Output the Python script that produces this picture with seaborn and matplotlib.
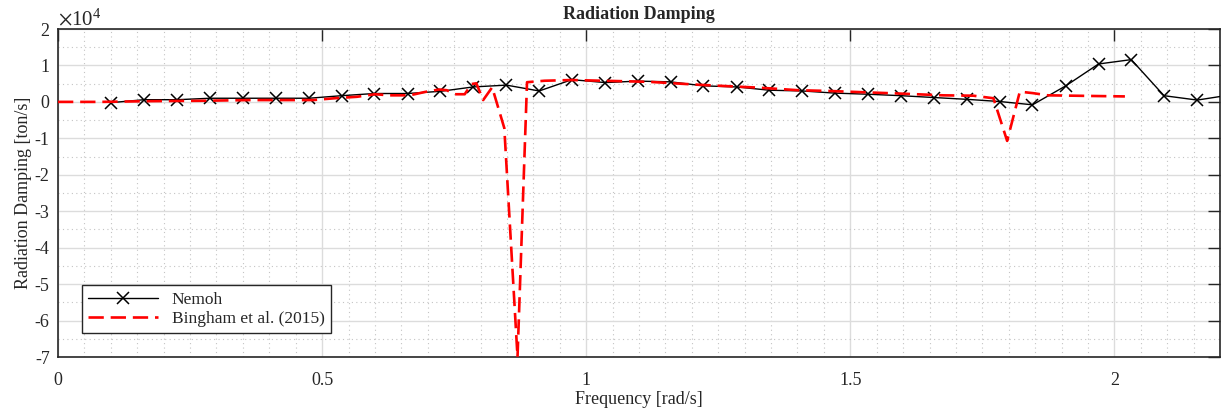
import matplotlib
matplotlib.use("Agg")
import matplotlib.pyplot as plt
import seaborn as sns
import numpy as np
from matplotlib.ticker import MultipleLocator, ScalarFormatter

# ---------------- data (values in ton/s) ----------------
nemoh_freq = [0.101, 0.163, 0.226, 0.288, 0.350, 0.413, 0.475, 0.537, 0.599, 0.662,
              0.724, 0.786, 0.849, 0.911, 0.973, 1.036, 1.098, 1.160, 1.222, 1.285,
              1.347, 1.409, 1.472, 1.534, 1.596, 1.658, 1.721, 1.783, 1.845, 1.908,
              1.970, 2.032, 2.094, 2.157, 2.219]
nemoh_val_e4 = [-0.02, 0.06, 0.06, 0.10, 0.10, 0.10, 0.10, 0.17, 0.23, 0.23,
                0.29, 0.41, 0.46, 0.30, 0.61, 0.53, 0.57, 0.55, 0.44, 0.41,
                0.32, 0.30, 0.24, 0.21, 0.17, 0.12, 0.07, 0.01, -0.08, 0.44,
                1.04, 1.16, 0.17, 0.05, 0.19]

bing_freq = [0.000, 0.080, 0.175, 0.269, 0.364, 0.483, 0.524, 0.566, 0.600, 0.628,
             0.666, 0.694, 0.722, 0.736, 0.751, 0.770, 0.783, 0.792, 0.805, 0.822,
             0.845, 0.870, 0.888, 0.921, 0.972, 1.062, 1.119, 1.213, 1.327, 1.402,
             1.459, 1.515, 1.591, 1.676, 1.733, 1.771, 1.797, 1.821, 1.846, 1.874,
             1.969, 2.020]
bing_val_e4 = [0.00, 0.00, 0.02, 0.03, 0.05, 0.05, 0.10, 0.14, 0.21, 0.18,
               0.18, 0.27, 0.34, 0.32, 0.21, 0.21, 0.49, 0.51, 0.05, 0.40,
               -0.72, -7.00, 0.54, 0.58, 0.60, 0.57, 0.55, 0.47, 0.39, 0.32,
               0.30, 0.27, 0.23, 0.18, 0.17, 0.10, -1.07, 0.28, 0.24, 0.18,
               0.16, 0.15]

series_labels = ["Nemoh", "Bingham et al. (2015)"]
x_ticks = [0, 0.5, 1, 1.5, 2]
x_tick_labels = ["0", "0.5", "1", "1.5", "2"]
y_ticks = [-7, -6, -5, -4, -3, -2, -1, 0, 1, 2]

nemoh_val = [v * 1e4 for v in nemoh_val_e4]
bing_val = [v * 1e4 for v in bing_val_e4]


class PlainSciFormatter(ScalarFormatter):
    """Keeps the library's x10^4 offset text but prints plain hyphen labels."""
    def __call__(self, x, pos=None):
        v = x / (10 ** self.orderOfMagnitude)
        return f"{v:g}"


# ---------------- style ----------------
sns.set_style("white")
plt.rcParams['font.family'] = ['Liberation Serif', 'DejaVu Serif']
plt.rcParams['mathtext.fontset'] = 'stix'
plt.rcParams['axes.unicode_minus'] = False

fig = plt.figure(figsize=(12.27, 4.16), dpi=100)
ax = fig.add_axes([58 / 1227, 1 - 357 / 416, (1220 - 58) / 1227, (357 - 29) / 416])

sns.lineplot(x=nemoh_freq, y=nemoh_val, ax=ax, color='black', linewidth=1.0,
             marker='x', markersize=9, markeredgewidth=1.1, markeredgecolor='black',
             label=series_labels[0], sort=False, zorder=3)
sns.lineplot(x=bing_freq, y=bing_val, ax=ax, color='#ff0000', linewidth=1.9,
             linestyle=(0, (5.8, 2.6)), label=series_labels[1], sort=False, zorder=4)

ax.set_xlim(0, 2.2)
ax.set_ylim(-7e4, 2e4)
ax.set_xticks(x_ticks)
ax.set_xticklabels(x_tick_labels)
ax.set_yticks([v * 1e4 for v in y_ticks])
fmt = PlainSciFormatter(useMathText=True)
fmt.set_powerlimits((4, 4))
ax.yaxis.set_major_formatter(fmt)
ax.yaxis.get_offset_text().set_fontsize(15)

ax.xaxis.set_minor_locator(MultipleLocator(0.05))
ax.yaxis.set_minor_locator(MultipleLocator(0.5e4))

ax.grid(True, which='major', color='#dcdcdc', linestyle='-', linewidth=1.0)
ax.grid(True, which='minor', color='#c4c4c4', linestyle=(0, (1, 3)), linewidth=0.8)
ax.set_axisbelow(True)

ax.tick_params(axis='x', which='major', pad=11)
ax.tick_params(axis='y', which='major', pad=6)
ax.tick_params(axis='both', which='major', direction='in', length=8.5, width=1.0,
               top=True, right=True, labelsize=13, color='#262626')
ax.tick_params(axis='both', which='minor', length=0, top=True, right=True)
for s in ax.spines.values():
    s.set_color('#262626')
    s.set_linewidth(1.2)

ax.set_title("Radiation Damping", fontsize=13, fontweight='bold', pad=7)
ax.set_xlabel("Frequency [rad/s]", fontsize=13, labelpad=1)
ax.set_ylabel("Radiation Damping [ton/s]", fontsize=13, labelpad=2)

leg = ax.legend(loc='lower left', bbox_to_anchor=(0.021, 0.072), fontsize=12.5,
                handlelength=4.0, numpoints=1, frameon=True, fancybox=False,
                borderpad=0.35, labelspacing=0.2, borderaxespad=0)
leg.get_frame().set_edgecolor('#262626')
leg.get_frame().set_linewidth(1.0)
leg.get_frame().set_alpha(1)

fig.savefig("out.png", dpi=100)
